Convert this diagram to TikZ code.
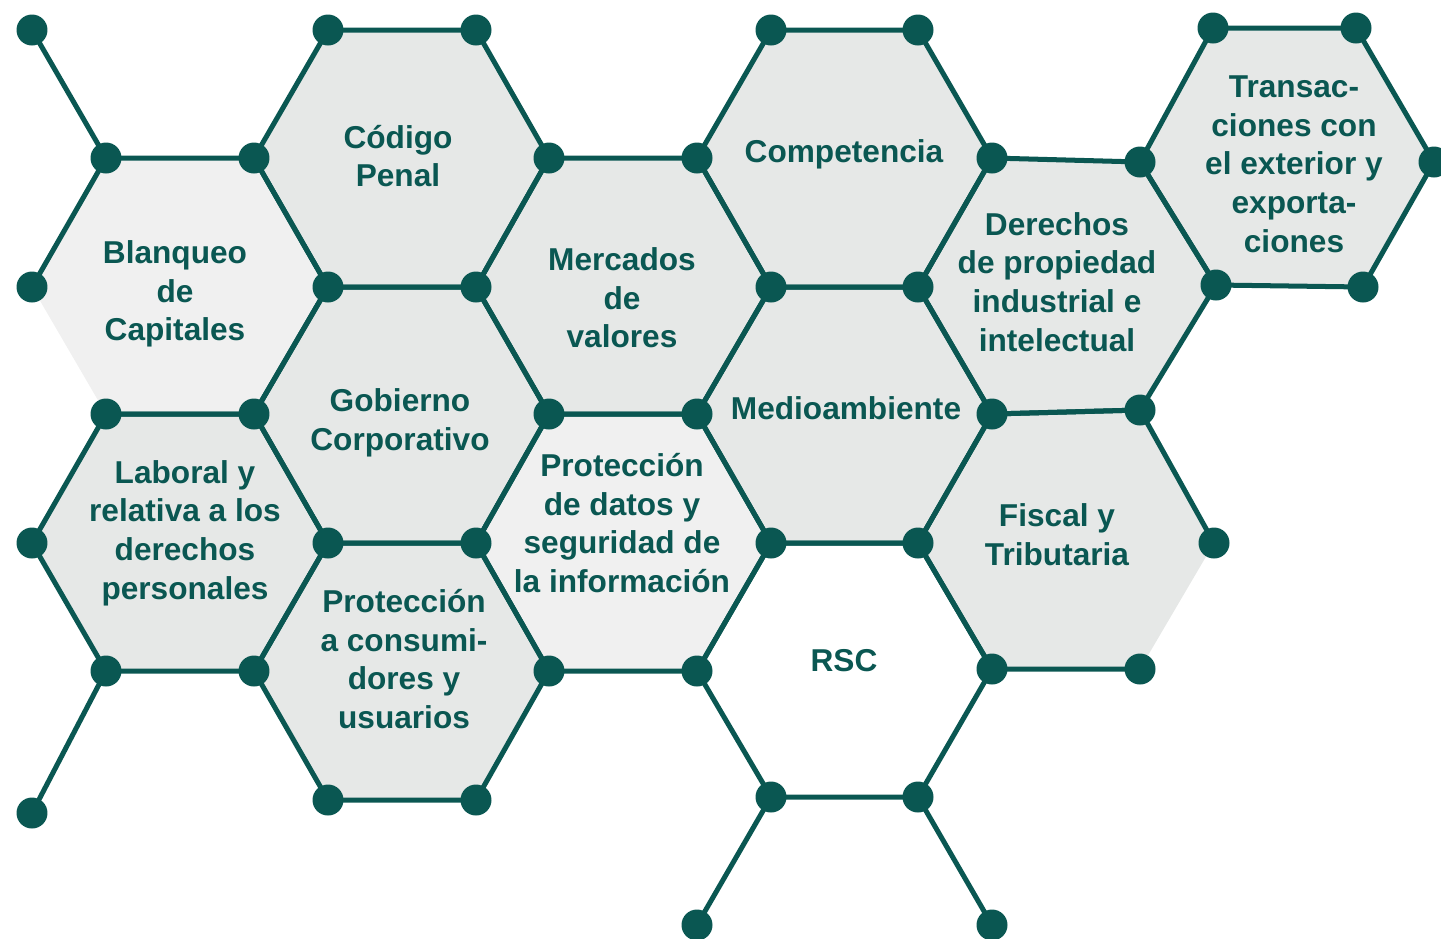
\documentclass[tikz,border=0pt]{standalone}
\usepackage{fontspec}
\setmainfont{Liberation Sans}
\definecolor{hexline}{RGB}{10,87,82}
\definecolor{hexgrey}{RGB}{230,232,231}
\definecolor{hexlight}{RGB}{240,240,240}
\begin{document}
\begin{tikzpicture}[x=0.02cm,y=-0.02cm]

      \useasboundingbox (0,0) rectangle (1441,938);

      % vertices of the grid
      \coordinate (a0) at (32,30);   \coordinate (d0) at (328,30);  \coordinate (e0) at (476,30);
      \coordinate (h0) at (771,30);  \coordinate (i0) at (918,30);  \coordinate (l0) at (1213,28);
      \coordinate (m0) at (1356,28);
      \coordinate (b1) at (106,158); \coordinate (c1) at (254,158); \coordinate (f1) at (549,158);
      \coordinate (g1) at (697,158); \coordinate (j1) at (992,158); \coordinate (k1) at (1140,162);
      \coordinate (n1) at (1434,162);
      \coordinate (a2) at (32,287);  \coordinate (d2) at (328,287); \coordinate (e2) at (476,287);
      \coordinate (h2) at (771,287); \coordinate (i2) at (918,287); \coordinate (l2) at (1216,285);
      \coordinate (m2) at (1363,287);
      \coordinate (b3) at (106,414); \coordinate (c3) at (254,414); \coordinate (f3) at (549,414);
      \coordinate (g3) at (697,414); \coordinate (j3) at (992,414); \coordinate (k3) at (1140,410);
      \coordinate (a4) at (32,543);  \coordinate (d4) at (328,543); \coordinate (e4) at (476,543);
      \coordinate (h4) at (771,543); \coordinate (i4) at (918,543); \coordinate (l4) at (1214,543);
      \coordinate (b5) at (106,671); \coordinate (c5) at (254,671); \coordinate (f5) at (549,671);
      \coordinate (g5) at (697,671); \coordinate (j5) at (992,669); \coordinate (k5) at (1140,669);
      \coordinate (a6) at (32,813);  \coordinate (d6) at (328,800); \coordinate (e6) at (476,800);
      \coordinate (h6) at (771,797); \coordinate (i6) at (918,797);
      \coordinate (g7) at (697,925); \coordinate (j7) at (992,925);

      \begin{scope}[every path/.style={fill=hexgrey}]
        \path (a4) -- (b3) -- (c3) -- (d4) -- (c5) -- (b5) -- cycle;
        \path (c1) -- (d0) -- (e0) -- (f1) -- (e2) -- (d2) -- cycle;
        \path (c3) -- (d2) -- (e2) -- (f3) -- (e4) -- (d4) -- cycle;
        \path (c5) -- (d4) -- (e4) -- (f5) -- (e6) -- (d6) -- cycle;
        \path (e2) -- (f1) -- (g1) -- (h2) -- (g3) -- (f3) -- cycle;
        \path (g1) -- (h0) -- (i0) -- (j1) -- (i2) -- (h2) -- cycle;
        \path (g3) -- (h2) -- (i2) -- (j3) -- (i4) -- (h4) -- cycle;
        \path (i2) -- (j1) -- (k1) -- (l2) -- (k3) -- (j3) -- cycle;
        \path (i4) -- (j3) -- (k3) -- (l4) -- (k5) -- (j5) -- cycle;
        \path (k1) -- (l0) -- (m0) -- (n1) -- (m2) -- (l2) -- cycle;
      \end{scope}

      \begin{scope}[every path/.style={fill=hexlight}]
        \path (a2) -- (b1) -- (c1) -- (d2) -- (c3) -- (b3) -- cycle;
        \path (e4) -- (f3) -- (g3) -- (h4) -- (g5) -- (f5) -- cycle;
      \end{scope}

      \begin{scope}[every path/.style={draw=hexline,line width=2.85pt}]
        \path (a2) -- (b1) -- (c1) -- (d2) -- (c3) -- (b3);
        \path (a4) -- (b3) -- (c3) -- (d4) -- (c5) -- (b5) -- cycle;
        \path (c1) -- (d0) -- (e0) -- (f1) -- (e2) -- (d2) -- cycle;
        \path (c3) -- (d2) -- (e2) -- (f3) -- (e4) -- (d4) -- cycle;
        \path (c5) -- (d4) -- (e4) -- (f5) -- (e6) -- (d6) -- cycle;
        \path (e2) -- (f1) -- (g1) -- (h2) -- (g3) -- (f3) -- cycle;
        \path (e4) -- (f3) -- (g3) -- (h4) -- (g5) -- (f5) -- cycle;
        \path (g1) -- (h0) -- (i0) -- (j1) -- (i2) -- (h2) -- cycle;
        \path (g3) -- (h2) -- (i2) -- (j3) -- (i4) -- (h4) -- cycle;
        \path (g5) -- (h4) -- (i4) -- (j5) -- (i6) -- (h6) -- cycle;
        \path (i2) -- (j1) -- (k1) -- (l2) -- (k3) -- (j3) -- cycle;
        \path (k5) -- (j5) -- (i4) -- (j3) -- (k3) -- (l4);
        \path (k1) -- (l0) -- (m0) -- (n1) -- (m2) -- (l2) -- cycle;
        \path (b1) -- (a0);
        \path (b5) -- (a6);
        \path (h6) -- (g7);
        \path (i6) -- (j7);
      \end{scope}

      % dots on the vertices
      \foreach \v in {a0,d0,e0,h0,i0,l0,m0,b1,c1,f1,g1,j1,k1,n1,a2,d2,e2,h2,i2,l2,m2,
                      b3,c3,f3,g3,j3,k3,a4,d4,e4,h4,i4,l4,b5,c5,f5,g5,j5,k5,
                      a6,d6,e6,h6,i6,g7,j7}
        \fill[hexline] (\v) circle[radius=0.31cm];

      \begin{scope}[every node/.style={text=hexline,align=center,
                    font=\fontsize{18}{22}\selectfont\bfseries}]
        \node (blanqueo)      at (175,294)  {Blanqueo\\de\\Capitales};
        \node (codigo)        at (398,156)  {Código\\Penal};
        \node (competencia)   at (844,154)  {Competencia};
        \node (mercados)      at (622,298)  {Mercados\\de\\valores};
        \node (transacciones) at (1294,164) {Transac-\\ciones con\\el exterior y\\exporta-\\ciones};
        \node (derechos)      at (1057,282) {Derechos\\de propiedad\\industrial e\\intelectual};
        \node (gobierno)      at (400,423)  {Gobierno\\Corporativo};
        \node (medio)         at (846,408)  {Medioambiente};
        \node (laboral)       at (185,533)  {Laboral y\\relativa a los\\derechos\\personales};
        \node (datos)         at (622,523)  {Protección\\de datos y\\seguridad de\\la información};
        \node (fiscal)        at (1057,535) {Fiscal y\\Tributaria};
        \node (consumidores)  at (404,659)  {Protección\\a consumi-\\dores y\\usuarios};
        \node (rsc)           at (844,661)  {RSC};
      \end{scope}

    \end{tikzpicture}
\end{document}
